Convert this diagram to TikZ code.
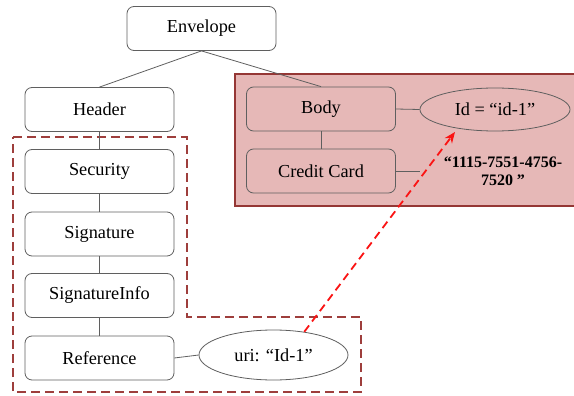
\documentclass[tikz,border=0pt]{standalone}
\usepackage{fontspec}
\setmainfont{Liberation Serif}
\usetikzlibrary{arrows.meta,shapes.geometric}
\definecolor{pinkfill}{RGB}{230,184,183}
\definecolor{darkred}{RGB}{149,55,53}
\definecolor{dashred}{RGB}{158,62,60}
\definecolor{boxline}{RGB}{95,95,95}
\definecolor{arrowred}{RGB}{250,20,20}
\begin{document}
\begin{tikzpicture}[x=1pt,y=-1pt,
  elem/.style={draw=boxline, line width=0.8pt, rounded corners=7pt,
    minimum width=149pt, minimum height=44pt, inner sep=0pt,
    font=\fontsize{18.3}{20}\selectfont},
  attr/.style={draw=boxline, ellipse, line width=0.8pt, inner sep=0pt,
    font=\fontsize{18.3}{20}\selectfont},
  link/.style={draw=boxline, line width=0.8pt},
  region/.style={draw=dashred, line width=1.8pt, dash pattern=on 9pt off 5pt},
  refarrow/.style={draw=arrowred, line width=1.8pt, dash pattern=on 8pt off 5pt,
    -{Stealth[length=11pt,width=9pt]}}]
\useasboundingbox (0,0) rectangle (574,396);
% body region
\fill[pinkfill] (235,74) rectangle (580,205.5);
\draw[darkred, line width=2pt] (580,74) -- (235,74) -- (235,205.5) -- (580,205.5);
% security region
\draw[region] (12.8,137) -- (186.8,137) -- (186.8,317) -- (360.8,317)
  -- (360.8,392) -- (12.8,392) -- cycle;
% nodes
\node[elem, fill=white] (env) at (201.5,28.5) {Envelope};
\node[elem, fill=white] (hdr) at (99.5,109.5) {Header};
\node[elem, fill=white] (sec) at (99.5,171.5) {Security};
\node[elem, fill=white] (sig) at (99.5,234) {Signature};
\node[elem, fill=white] (sinfo) at (99.5,295.5) {SignatureInfo};
\node[elem, fill=white] (ref) at (99.5,358) {Reference};
\node[attr, fill=white, minimum width=149pt, minimum height=50pt] (uri) at (273.5,355) {uri: “Id-1”};
\node[elem, fill=pinkfill] (body) at (321,109) {Body};
\node[elem, fill=pinkfill] (cc) at (321,171) {Credit Card};
\node[attr, fill=pinkfill, minimum width=150pt, minimum height=43pt] (idn) at (495,109.5) {Id = “id-1”};
\node[font=\fontsize{16}{18}\selectfont\bfseries, align=center] (num) at (503,171) {“1115-7551-4756-\\7520 ”};
\coordinate (ccend) at (420,171);
\coordinate (tip) at (455,132);
% connectors
\draw[link] (env.south) -- (hdr.north);
\draw[link] (env.south) -- (body.north);
\draw[link] (hdr) -- (sec);
\draw[link] (sec) -- (sig);
\draw[link] (sig) -- (sinfo);
\draw[link] (sinfo) -- (ref);
\draw[link] (ref.east) -- (uri.west);
\draw[link] (body) -- (cc);
\draw[link] (body.east) -- (idn.west);
\draw[link] (cc.east) -- (ccend);
\draw[refarrow] (uri.37) -- (tip);
\end{tikzpicture}
\end{document}
